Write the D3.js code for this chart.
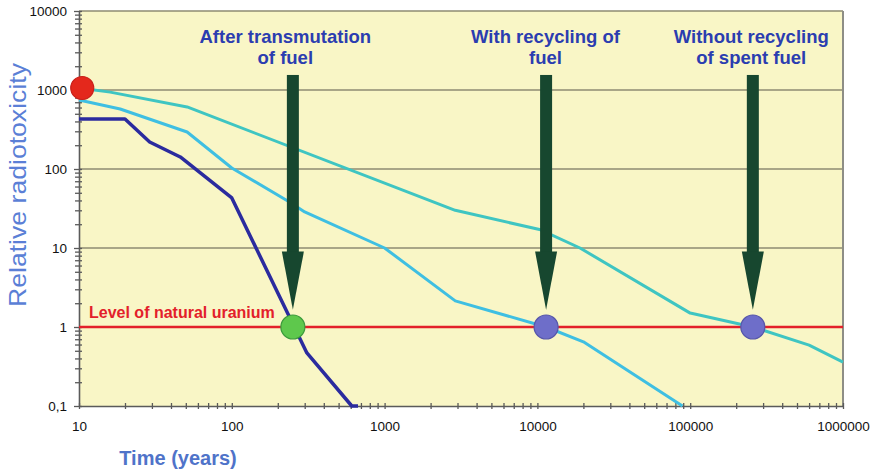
<!DOCTYPE html>
<html>
<head>
<meta charset="utf-8">
<script src="https://cdn.jsdelivr.net/npm/d3@7/dist/d3.min.js"></script>
<style>
  html, body { margin: 0; padding: 0; background: #ffffff; }
  svg { display: block; font-family: "Liberation Sans", Arial, sans-serif; }
</style>
</head>
<body>
<svg id="chart" width="874" height="473"></svg>
<script>
// ---------- data ----------
const withoutRecyclingYears = [10, 16, 51, 2900, 10500, 19000, 100000, 257000, 600000, 1000000];
const withoutRecyclingTox   = [1060, 940, 610, 30, 17, 10, 1.5, 1, 0.59, 0.36];

const withRecyclingYears = [10, 18.6, 51, 100, 240, 300, 1000, 2900, 11400, 20000, 89000];
const withRecyclingTox   = [746, 575, 294, 103, 38, 28.6, 10, 2.14, 1, 0.65, 0.1];

const transmutationYears = [10, 20, 29, 46, 100, 310, 610, 670];
const transmutationTox   = [430, 430, 220, 142, 43, 0.47, 0.1, 0.1];

const naturalUraniumLevel = 1;

const markerYears  = [10.5, 251, 11400, 257000];
const markerTox    = [1060, 1, 1, 1];
const markerKinds  = ["start", "transmutation", "recycling", "spent"];

const arrowYears   = [251, 11400, 257000];
const arrowTop = 1550, arrowHeadBase = 9, arrowTip = 1.65;
const arrowLabels  = [["After transmutation", "of fuel"], ["With recycling of", "fuel"], ["Without recycling", "of spent fuel"]];
const arrowLabelYears = [224, 11300, 251000];

const xTickValues = [10, 100, 1000, 10000, 100000, 1000000];
const xTickLabels = ["10", "100", "1000", "10000", "100000", "1000000"];
const yTickValues = [0.1, 1, 10, 100, 1000, 10000];
const yTickLabels = ["0,1", "1", "10", "100", "1000", "10000"];
const gridValues  = [10, 100, 1000, 10000];

// ---------- layout ----------
const svg = d3.select("#chart");
const x = d3.scaleLog().domain([10, 1000000]).range([79, 843]);
const y = d3.scaleLog().domain([0.1, 10000]).range([406, 11]);

const colors = {
  bg: "#f9f6c6", grid: "#8e8b72", axis: "#5a5a5a",
  teal: "#3fc5c2", cyan: "#3fbfe2", navy: "#2b2b9e",
  red: "#e3202a", arrow: "#17472f", label: "#2b3db0", title: "#4f73c9", ytitle: "#5b7fd6"
};

// plot background
svg.append("rect")
  .attr("x", x(10)).attr("y", y(10000))
  .attr("width", x(1000000) - x(10)).attr("height", y(0.1) - y(10000))
  .attr("fill", colors.bg);

// gridlines
svg.append("g").selectAll("line").data(gridValues).join("line")
  .attr("x1", x(10)).attr("x2", x(1000000))
  .attr("y1", d => y(d)).attr("y2", d => y(d))
  .attr("stroke", colors.grid).attr("stroke-width", 1.6);

// right border
svg.append("line")
  .attr("x1", x(1000000)).attr("x2", x(1000000))
  .attr("y1", y(10000)).attr("y2", y(0.1))
  .attr("stroke", "#8e8e86").attr("stroke-width", 2);

// minor tick values
const minorY = [], minorX = [];
for (let e = -1; e < 4; e++) for (let m = 2; m <= 9; m++) minorY.push(m * Math.pow(10, e));
for (let e = 1; e < 6; e++) for (let m = 2; m <= 9; m++) minorX.push(m * Math.pow(10, e));

// y axis
const yAxisG = svg.append("g").attr("transform", `translate(${x(10)},0)`);
yAxisG.append("g").call(d3.axisLeft(y).tickValues(minorY).tickFormat("").tickSizeInner(4).tickSizeOuter(0))
  .call(g => g.selectAll(".tick line").attr("x1", 3))
  .call(g => g.select(".domain").remove());
yAxisG.append("g").call(d3.axisLeft(y).tickValues(yTickValues)
    .tickFormat((d, i) => yTickLabels[i]).tickSizeInner(5).tickSizeOuter(0).tickPadding(7))
  .call(g => g.selectAll(".tick line").attr("x1", 3))
  .call(g => g.selectAll("text").attr("font-size", 13.5).attr("fill", "#111").attr("font-family", "Liberation Sans, Arial, sans-serif"))
  .call(g => g.select(".domain").attr("stroke", colors.axis).attr("stroke-width", 1.6));
yAxisG.selectAll(".tick line").attr("stroke", colors.axis).attr("stroke-width", 1.3);

// x axis
const xAxisG = svg.append("g").attr("transform", `translate(0,${y(0.1)})`);
xAxisG.append("g").call(d3.axisBottom(x).tickValues(minorX).tickFormat("").tickSizeInner(3).tickSizeOuter(0))
  .call(g => g.selectAll(".tick line").attr("y1", -3))
  .call(g => g.select(".domain").remove());
xAxisG.append("g").call(d3.axisBottom(x).tickValues(xTickValues)
    .tickFormat((d, i) => xTickLabels[i]).tickSizeInner(3).tickSizeOuter(0).tickPadding(12))
  .call(g => g.selectAll(".tick line").attr("y1", -3))
  .call(g => g.selectAll("text").attr("font-size", 13.5).attr("fill", "#111").attr("font-family", "Liberation Sans, Arial, sans-serif"))
  .call(g => g.select(".domain").attr("stroke", colors.axis).attr("stroke-width", 1.6));
xAxisG.selectAll(".tick line").attr("stroke", colors.axis).attr("stroke-width", 1.3);

// natural uranium level
svg.append("line")
  .attr("x1", x(10)).attr("x2", x(1000000))
  .attr("y1", y(naturalUraniumLevel)).attr("y2", y(naturalUraniumLevel))
  .attr("stroke", colors.red).attr("stroke-width", 2.5);
svg.append("text")
  .attr("x", x(10) + 10).attr("y", y(naturalUraniumLevel) - 9)
  .attr("font-size", 16).attr("font-weight", "bold").attr("fill", colors.red)
  .text("Level of natural uranium");

// curves
const line = d3.line().x(d => x(d[0])).y(d => y(d[1]));
const series = [
  { years: withoutRecyclingYears, tox: withoutRecyclingTox, color: colors.teal, w: 3 },
  { years: withRecyclingYears, tox: withRecyclingTox, color: colors.cyan, w: 3 },
  { years: transmutationYears, tox: transmutationTox, color: colors.navy, w: 3.5 }
];
series.forEach(s => {
  svg.append("path")
    .datum(s.years.map((yr, i) => [yr, s.tox[i]]))
    .attr("d", line)
    .attr("fill", "none").attr("stroke", s.color).attr("stroke-width", s.w)
    .attr("stroke-linejoin", "round");
});

// arrows
const shaftW = 12, headW = 22;
arrowYears.forEach(yr => {
  const cx = x(yr);
  svg.append("rect")
    .attr("x", cx - shaftW / 2).attr("y", y(arrowTop))
    .attr("width", shaftW).attr("height", y(arrowHeadBase) - y(arrowTop) + 1)
    .attr("fill", colors.arrow);
  svg.append("path")
    .attr("d", `M${cx - headW / 2},${y(arrowHeadBase)} L${cx + headW / 2},${y(arrowHeadBase)} L${cx},${y(arrowTip)} Z`)
    .attr("fill", colors.arrow);
});

// arrow labels
arrowLabels.forEach((lines, i) => {
  const t = svg.append("text")
    .attr("x", x(arrowLabelYears[i])).attr("y", 43)
    .attr("text-anchor", "middle").attr("font-size", 18.5).attr("font-weight", "bold")
    .attr("fill", colors.label);
  lines.forEach((ln, j) => {
    t.append("tspan").attr("x", x(arrowLabelYears[i])).attr("dy", j === 0 ? 0 : 20.5).text(ln);
  });
});

// markers
const markerStyle = {
  start: { fill: "#e4281c", stroke: "#c8201a", r: 11.5 },
  transmutation: { fill: "#5ec84c", stroke: "#3c9a3c", r: 12 },
  recycling: { fill: "#6e6ec9", stroke: "#5656aa", r: 12 },
  spent: { fill: "#6e6ec9", stroke: "#5656aa", r: 12 }
};
svg.append("g").selectAll("circle").data(markerYears.map((yr, i) => [yr, markerTox[i], markerKinds[i]])).join("circle")
  .attr("cx", d => x(d[0])).attr("cy", d => y(d[1]))
  .attr("r", d => markerStyle[d[2]].r)
  .attr("fill", d => markerStyle[d[2]].fill)
  .attr("stroke", d => markerStyle[d[2]].stroke).attr("stroke-width", 1.2);

// axis titles
svg.append("text")
  .attr("transform", "translate(26,185) rotate(-90)")
  .attr("text-anchor", "middle").attr("font-size", 24).attr("fill", colors.ytitle)
  .attr("textLength", 244).attr("lengthAdjust", "spacingAndGlyphs")
  .text("Relative radiotoxicity");
svg.append("text")
  .attr("x", 178).attr("y", 465)
  .attr("text-anchor", "middle").attr("font-size", 20).attr("font-weight", "bold").attr("fill", colors.title)
  .text("Time (years)");
</script>
</body>
</html>
